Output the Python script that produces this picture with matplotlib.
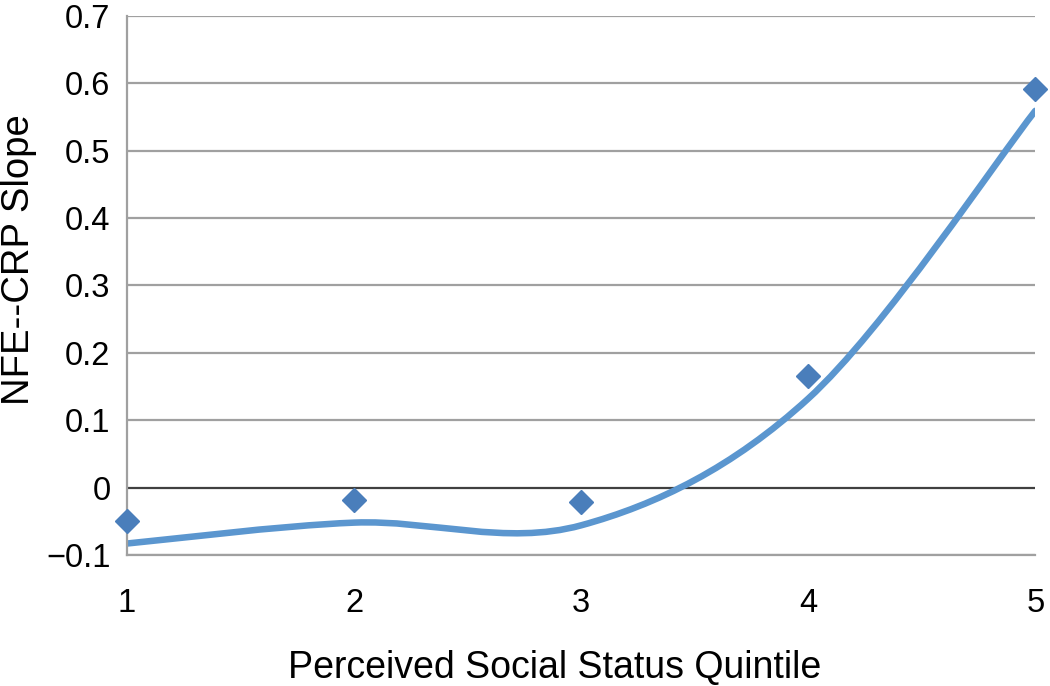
import matplotlib.pyplot as plt
from matplotlib.path import Path
from matplotlib.patches import PathPatch

plt.rcParams['font.family'] = ['Liberation Sans', 'DejaVu Sans']

quintiles = [1, 2, 3, 4, 5]
observed_slope = [-0.049, -0.019, -0.021, 0.166, 0.592]
fitted_slope = [-0.083, -0.052, -0.056, 0.132, 0.559]
y_ticks = [-0.1, 0, 0.1, 0.2, 0.3, 0.4, 0.5, 0.6, 0.7]
y_labels = ['\u22120.1', '0', '0.1', '0.2', '0.3', '0.4', '0.5', '0.6', '0.7']

fig = plt.figure(figsize=(10.5, 6.86), dpi=100)
ax = fig.add_axes([0.121, 0.191, 0.865, 0.786])

for y in y_ticks:
    if y == 0:
        ax.axhline(y, color='#404040', lw=1.6, zorder=1)
    else:
        ax.axhline(y, color='#a0a0a0', lw=1.6, zorder=1)

# smoothed line (Bezier through the fitted points, as in a spreadsheet chart)
pts = list(zip(quintiles, fitted_slope))
verts = [pts[0]]
codes = [Path.MOVETO]
for i in range(len(pts) - 1):
    p0 = pts[max(i - 1, 0)]
    p1 = pts[i]
    p2 = pts[i + 1]
    p3 = pts[min(i + 2, len(pts) - 1)]
    c1 = (p1[0] + (p2[0] - p0[0]) / 6, p1[1] + (p2[1] - p0[1]) / 6)
    c2 = (p2[0] - (p3[0] - p1[0]) / 6, p2[1] - (p3[1] - p1[1]) / 6)
    verts += [c1, c2, p2]
    codes += [Path.CURVE4] * 3
curve = PathPatch(Path(verts, codes), facecolor='none', edgecolor='#5b96cf',
                  lw=4.7, capstyle='round', zorder=2)
ax.add_patch(curve)

ax.plot(quintiles, observed_slope, linestyle='none', marker='D', ms=12,
        color='#4a7ebb', zorder=3, clip_on=False)

ax.set_xlim(1, 5)
ax.set_ylim(-0.1, 0.7)
ax.set_xticks(quintiles)
ax.set_yticks(y_ticks)
ax.set_yticklabels(y_labels)
ax.tick_params(length=0, labelsize=23.5, pad=12)
ax.tick_params(axis='x', pad=24)

for s in ['top', 'right']:
    ax.spines[s].set_visible(False)
for s in ['left', 'bottom']:
    ax.spines[s].set_color('#a0a0a0')
    ax.spines[s].set_linewidth(1.6)

ax.set_xlabel('Perceived Social Status Quintile', fontsize=27, va='center')
ax.xaxis.set_label_coords(0.471, -0.209)
ax.set_ylabel('NFE--CRP Slope', fontsize=27.5, va='center')
ax.yaxis.set_label_coords(-0.119, 0.547)

fig.savefig('out.png', dpi=100)
